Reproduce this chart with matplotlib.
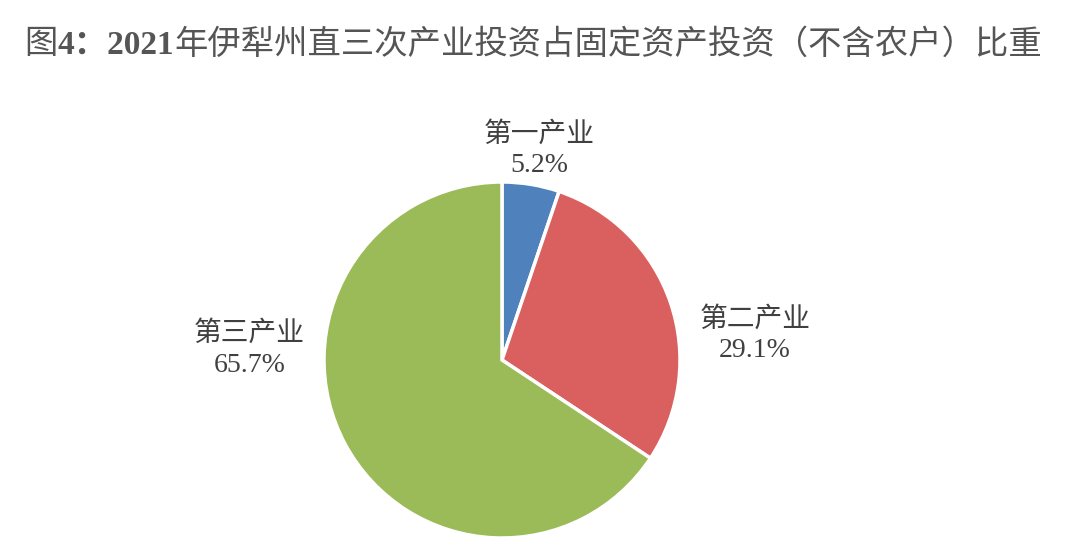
import matplotlib
matplotlib.use('Agg')
import matplotlib.pyplot as plt

# 数据
categories = ['第一产业', '第二产业', '第三产业']
shares = [5.2, 29.1, 65.7]
colors = ['#4F81BD', '#D9605F', '#9BBB59']
# 标题分段: (文字, 是否加粗)
title_parts = [('图', False), ('4：2021', True),
               ('年伊犁州直三次产业投资占固定资产投资（不含农户）比重', False)]

# 标签位置 (饼图半径 = 1)
label_pos = [(0.21, 1.18), (1.42, 0.14), (-1.42, 0.06)]

plt.rcParams['font.family'] = ['Liberation Serif', 'Noto Sans CJK SC']

W, H = 1080, 559
fig = plt.figure(figsize=(W / 100, H / 100), dpi=100)

# 饼图中心与半径 (像素)
cx, cy, r = 502, 360, 178
ax = fig.add_axes([(cx - r) / W, (H - cy - r) / H, 2 * r / W, 2 * r / H])
ax.pie(shares, colors=colors, startangle=90, counterclock=False, radius=1,
       wedgeprops=dict(edgecolor='white', linewidth=2.5))
ax.set_xlim(-1, 1)
ax.set_ylim(-1, 1)
ax.set_aspect('equal')
ax.axis('off')

for name, val, (lx, ly) in zip(categories, shares, label_pos):
    ax.text(lx, ly, f'{name}\n{val:.1f}%', ha='center', va='center',
            fontsize=20, color='#404040', linespacing=1.3, clip_on=False)

# 标题逐段拼接
renderer = fig.canvas.get_renderer()
x = 24
for txt, bold in title_parts:
    t = fig.text(x / W, 1 - 45 / H, txt, ha='left', va='center',
                 fontsize=24, color='#555555',
                 fontweight='bold' if bold else 'normal')
    x = t.get_window_extent(renderer).x1

fig.savefig('out.png', dpi=100, facecolor='white')
